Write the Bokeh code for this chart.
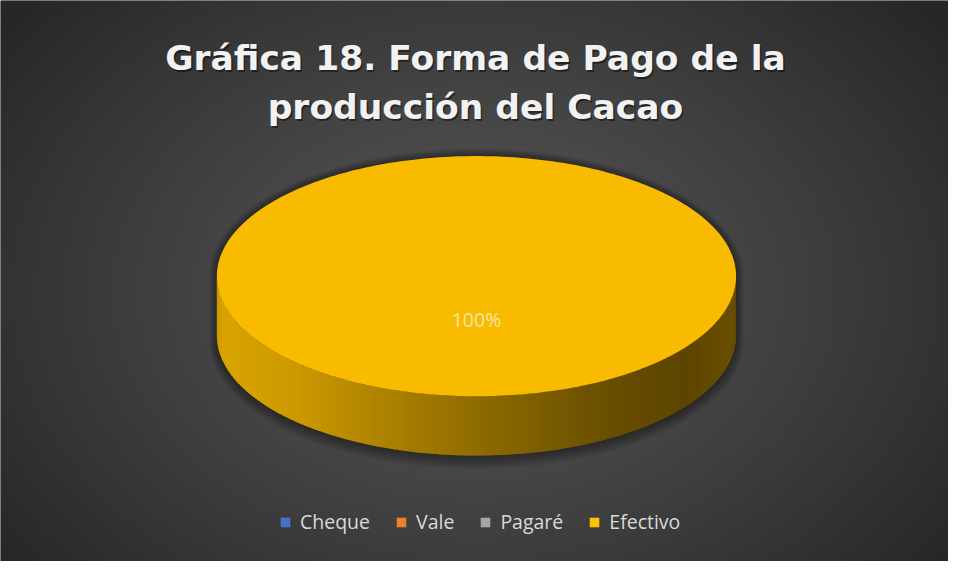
import numpy as np
from bokeh.plotting import figure
from bokeh.models import Range1d, Legend, LegendItem, ColumnDataSource
from bokeh.core.properties import value
from bokeh.embed import file_html
from bokeh.resources import INLINE

# ---- data ----
categories = ["Cheque", "Vale", "Pagaré", "Efectivo"]
percentages = [0, 0, 0, 100]
colors = ["#4472C4", "#ED7D31", "#A5A5A5", "#FFC000"]
title_lines = ["Gráfica 18. Forma de Pago de la", "producción del Cacao"]

# ---- page / coordinate frame (data units == reference pixels) ----
W, H, M = 964, 577, 8
FW, FH = W - 2 * M, H - 2 * M


def Y(py):
    return H - py


p = figure(width=FW, height=FH,
           x_range=Range1d(0, W), y_range=Range1d(0, H),
           output_backend="svg", toolbar_location=None,
           x_axis_type=None, y_axis_type=None, min_border=0)
p.outline_line_color = None
p.background_fill_color = "#3a3a3a"
p.border_fill_color = "#3a3a3a"

# ---- radial dark background ----
nx, ny = 482, 289
xs = np.linspace(0, W, nx)
pys = np.linspace(H, 0, ny)
GX, GPY = np.meshgrid(xs, pys)
r = np.sqrt(((GX - 482) / 560.0) ** 2 + ((GPY - 300) / 420.0) ** 2)
lum = 86 - 48 * np.clip(r / 1.1, 0, 1) ** 1.2
img = np.empty((ny, nx), dtype=np.uint32)
view = img.view(dtype=np.uint8).reshape((ny, nx, 4))
view[..., 0] = lum.astype(np.uint8)
view[..., 1] = lum.astype(np.uint8)
view[..., 2] = lum.astype(np.uint8)
view[..., 3] = 255
p.image_rgba(image=[img], x=0, y=0, dw=W, dh=H)

# ---- 3D pie geometry ----
cx, cy = 484.0, 283.5
a, b = 264.0, 123.5
depth = 61.0


def pt(theta_deg, ea=0.0, eb=0.0, dy=0.0):
    t = np.radians(theta_deg)
    return cx + (a + ea) * np.sin(t), cy - (b + eb) * np.cos(t) + dy


def hex_to_rgb(h):
    h = h.lstrip("#")
    return np.array([int(h[i:i + 2], 16) for i in (0, 2, 4)], dtype=float)


def rgb_to_hex(c):
    c = np.clip(c, 0, 255).astype(int)
    return "#%02x%02x%02x" % tuple(c)


vals = np.array(percentages, dtype=float)
fracs = vals / vals.sum()
ends = np.cumsum(fracs) * 360.0
starts = ends - fracs * 360.0

# soft shadow around the cylinder silhouette
for k in range(6):
    e = 1.0 + k * 1.3
    dy = 1.5 + k * 0.9
    th_up = np.linspace(270, 450, 120)
    th_lo = np.linspace(90, 270, 120)
    ux, uy = pt(th_up, e, e, 0)
    lx, ly = pt(th_lo, e, e, depth + dy)
    sx = np.concatenate([ux, lx])
    sy = np.concatenate([uy, ly])
    p.patch(sx, Y(sy), fill_color="black", fill_alpha=0.07, line_color=None)

# side faces (front half only), shaded by horizontal position
shade_u = [0.0, 0.15, 0.35, 0.55, 0.75, 0.9, 1.0]
shade_f = [0.86, 0.80, 0.66, 0.53, 0.41, 0.36, 0.42]
side_xs, side_ys, side_cols = [], [], []
for s0, s1, col in zip(starts, ends, colors):
    lo, hi = max(s0, 90.0), min(s1, 270.0)
    if hi <= lo:
        continue
    base = hex_to_rgb(col)
    edges = np.linspace(lo, hi, int((hi - lo) / 1.0) + 1)
    for t0, t1 in zip(edges[:-1], edges[1:]):
        t1e = min(t1 + 0.6, hi)
        x0, y0 = pt(t0)
        x1, y1 = pt(t1e)
        qx = [x0, x1, x1, x0]
        qy = [y0, y1, y1 + depth, y0 + depth]
        u = ((x0 + x1) / 2 - (cx - a)) / (2 * a)
        f = np.interp(u, shade_u, shade_f)
        side_xs.append(qx)
        side_ys.append([Y(v) for v in qy])
        side_cols.append(rgb_to_hex(base * f))
p.patches(side_xs, side_ys, fill_color=side_cols, line_color=None)

# top faces: one wedge per category
top_xs, top_ys, top_cols = [], [], []
for s0, s1, col in zip(starts, ends, colors):
    n = max(int(s1 - s0), 1) + 1
    th = np.linspace(s0, s1, n)
    ax, ay = pt(th)
    top_xs.append(list(np.concatenate([[cx], ax])))
    top_ys.append([Y(v) for v in np.concatenate([[cy], ay])])
    top_cols.append(rgb_to_hex(hex_to_rgb(col) * 0.975))
top_src = ColumnDataSource(dict(xs=top_xs, ys=top_ys, color=top_cols))
top_r = p.patches("xs", "ys", source=top_src, fill_color="color", line_color=None)

# data labels
lab_x, lab_y, lab_t = [], [], []
for s0, s1, v in zip(starts, ends, vals):
    if v <= 0:
        continue
    mid = (s0 + s1) / 2
    lx, ly = pt(mid, -a * 0.64, -b * 0.64)
    lab_x.append(lx)
    lab_y.append(Y(ly))
    lab_t.append(f"{v:.0f}%")
p.text(lab_x, lab_y, text=lab_t, text_align="center", text_baseline="middle",
       text_color="#f7ebbf", text_alpha=0.9, text_font=value("Open Sans"),
       text_font_size="19.5px")

# ---- title ----
title_py = [59, 110]
title_x = 483
p.text([title_x + 1.5] * 2, [Y(v + 2) for v in title_py], text=title_lines,
       text_align="center", text_baseline="alphabetic", text_color="black",
       text_alpha=0.45, text_font=value("DejaVu Sans"), text_font_style="bold",
       text_font_size="34.5px")
p.text([title_x] * 2, [Y(v) for v in title_py], text=title_lines,
       text_align="center", text_baseline="alphabetic", text_color="#f2f2f2",
       text_font=value("DejaVu Sans"), text_font_style="bold",
       text_font_size="34.5px")

# ---- legend ----
legend_r = p.patches("xs", "ys", source=ColumnDataSource(dict(
    xs=[[np.nan]] * len(categories), ys=[[np.nan]] * len(categories), color=colors)),
    fill_color="color", line_color=None)
legend = Legend(items=[LegendItem(label=c, renderers=[legend_r], index=i)
                       for i, c in enumerate(categories)],
                orientation="horizontal", location=(279, 26),
                glyph_width=12, glyph_height=12, label_standoff=9, spacing=25,
                padding=0, margin=0, border_line_color=None,
                background_fill_alpha=0, label_text_color="#d9d9d9",
                label_text_font="Open Sans", label_text_font_size="19.5px",
                label_height=20)
p.add_layout(legend, "center")

open("out.html", "w").write(file_html(p, INLINE))
